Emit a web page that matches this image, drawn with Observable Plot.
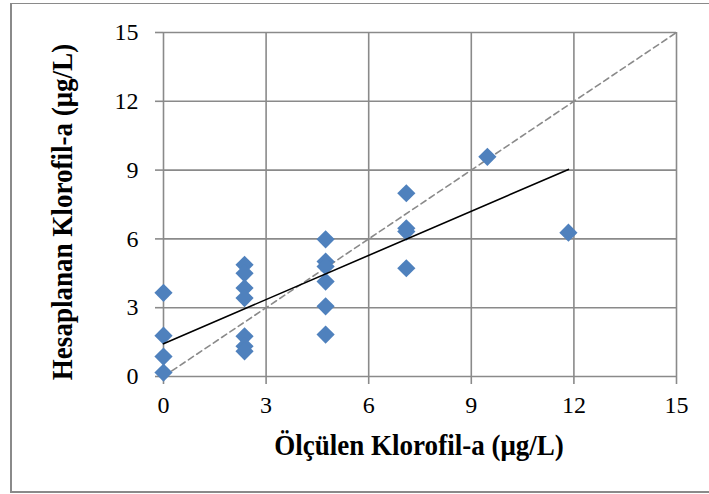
<!DOCTYPE html>
<html>
<head>
<meta charset="utf-8">
<script src="https://cdn.jsdelivr.net/npm/d3@7"></script>
<script src="https://cdn.jsdelivr.net/npm/@observablehq/plot@0.6"></script>
<style>
  html, body { margin: 0; padding: 0; background: #fff; overflow: hidden; }
  #wrap { position: relative; width: 709px; height: 494px; overflow: hidden; }
  #box { position: absolute; left: 10px; top: 3px; width: 760px; height: 487px;
         border-left: 2px solid #8a8a8a; border-top: 1px solid #8a8a8a; border-bottom: 2px solid #8a8a8a; }
  #chart { position: absolute; left: 0; top: 0; }
  .title { position: absolute; font-family: "Liberation Serif", "Times New Roman", serif; font-weight: bold;
           font-size: 26px; color: #000; white-space: nowrap; line-height: 1; }
  #xtitle { left: 419px; top: 446px; transform: translate(-50%, -50%) scale(1.04, 1.1); }
  #ytitle { left: 63px; top: 212px; transform: translate(-50%, -50%) rotate(-90deg) scale(1.04, 1.1); }
</style>
</head>
<body>
<div id="wrap">
  <div id="box"></div>
  <div id="chart"></div>
  <div class="title" id="xtitle">Ölçülen Klorofil-a (μg/L)</div>
  <div class="title" id="ytitle">Hesaplanan Klorofil-a (μg/L)</div>
</div>
<script>
// Measured (Ölçülen) vs computed (Hesaplanan) chlorophyll-a, µg/L
const measured = [
  0, 0, 0, 0,
  2.37, 2.37, 2.37, 2.37, 2.37, 2.37, 2.37,
  4.74, 4.74, 4.74, 4.74, 4.74, 4.74,
  7.1, 7.1, 7.1, 7.1,
  9.47,
  11.84
];
const computed = [
  3.65, 1.78, 0.87, 0.17,
  4.87, 4.5, 3.86, 3.42, 1.75, 1.32, 1.1,
  5.98, 5.01, 4.8, 4.14, 3.06, 1.83,
  7.99, 6.46, 6.32, 4.72,
  9.58,
  6.27
];
// Linear trendline endpoints (as drawn)
const trendX = [0, 11.84];
const trendY = [1.43, 9.03];
// 1:1 reference line
const refLine = [0, 15];
// Tick values
const xTicks = [0, 3, 6, 9, 12, 15];
const yTicks = [0, 3, 6, 9, 12, 15];

const points = measured.map((m, i) => ({x: m, y: computed[i]}));
const trend = trendX.map((x, i) => ({x, y: trendY[i]}));
const ref = refLine.map(v => ({x: v, y: v}));

const gray = "#8a8a8a";
const serif = "'Liberation Serif', 'Times New Roman', serif";

const chart = Plot.plot({
  width: 709,
  height: 494,
  marginLeft: 163,
  marginRight: 33,
  marginTop: 32,
  marginBottom: 118,
  style: {fontFamily: serif, fontSize: "24px", color: "#000", background: "transparent"},
  x: {domain: [0, 15]},
  y: {domain: [0, 15]},
  marks: [
    Plot.gridX(xTicks, {stroke: gray, strokeOpacity: 1, strokeWidth: 1.6}),
    Plot.gridY(yTicks, {stroke: gray, strokeOpacity: 1, strokeWidth: 1.6}),
    Plot.axisX({ticks: xTicks, tickSize: 8, tickPadding: 11, stroke: gray, strokeWidth: 1.6, fill: "#000", fontSize: 24, fontFamily: serif, label: null, tickFormat: d3.format("d")}),
    Plot.axisY({ticks: yTicks, tickSize: 8, tickPadding: 17, stroke: gray, strokeWidth: 1.6, fill: "#000", fontSize: 24, fontFamily: serif, label: null, tickFormat: d3.format("d")}),
    Plot.line(ref, {x: "x", y: "y", stroke: gray, strokeWidth: 1.6, strokeDasharray: "6,4"}),
    Plot.dot(points, {x: "x", y: "y", symbol: "diamond2", r: 8.2, fill: "#4F81BD", stroke: "none"}),
    Plot.line(trend, {x: "x", y: "y", stroke: "#000", strokeWidth: 1.6})
  ]
});
document.getElementById("chart").appendChild(chart);
</script>
</body>
</html>
